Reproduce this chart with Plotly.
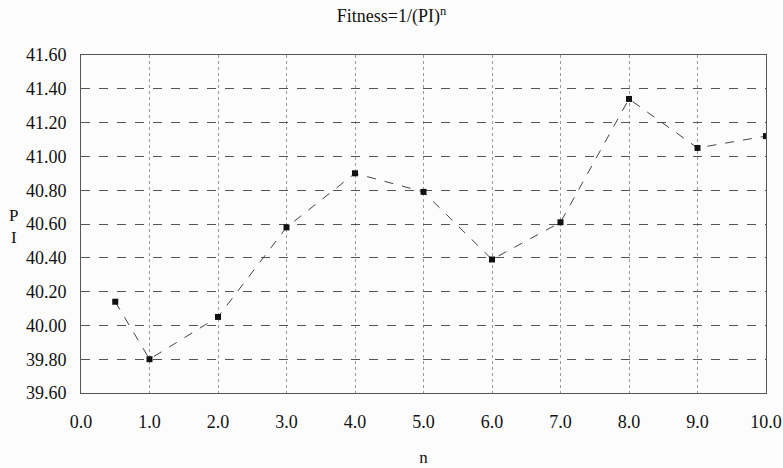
import plotly.graph_objects as go

n_values = [0.5, 1, 2, 3, 4, 5, 6, 7, 8, 9, 10]
pi_values = [40.14, 39.80, 40.05, 40.58, 40.90, 40.79, 40.39, 40.61, 41.34, 41.05, 41.12]
x_ticks = [0, 1, 2, 3, 4, 5, 6, 7, 8, 9, 10]
y_ticks = [39.6, 39.8, 40.0, 40.2, 40.4, 40.6, 40.8, 41.0, 41.2, 41.4, 41.6]

font_family = "Liberation Serif, Times New Roman, serif"

fig = go.Figure()
fig.add_trace(go.Scatter(
    x=n_values, y=pi_values, mode="lines+markers",
    line=dict(color="#444444", width=1, dash="dash"),
    marker=dict(symbol="square", size=6, color="#111111"),
    showlegend=False,
))

fig.update_layout(
    width=783, height=468,
    margin=dict(l=81, r=17, t=55, b=75, autoexpand=False),
    paper_bgcolor="#fcfcfc", plot_bgcolor="#fcfcfc",
    font=dict(family=font_family, color="#111111", size=18),
    title=dict(text="Fitness=1/(PI)<sup>n</sup>", x=0.5, xanchor="center",
               y=1 - 16 / 468, yanchor="middle", font=dict(size=18)),
    annotations=[
        dict(text="P<br>I", xref="paper", yref="paper", x=(13 - 81) / 685, y=(393 - 227) / 338,
             showarrow=False, xanchor="center", yanchor="middle", font=dict(size=17), align="center"),
    ],
)

fig.update_xaxes(
    range=[0, 10], tickvals=x_ticks, ticktext=[f"{v:.1f}" for v in x_ticks],
    showgrid=True, gridcolor="#9a9a9a", griddash="dot", gridwidth=1,
    showline=True, linecolor="#555555", linewidth=1, mirror=True,
    ticks="", ticklabelstandoff=12, zeroline=False, automargin=False,
    title=dict(text="n", font=dict(size=17), standoff=20),
)
fig.update_yaxes(
    range=[39.6, 41.6], tickvals=y_ticks, ticktext=[f"{v:.2f}" for v in y_ticks],
    showgrid=True, gridcolor="#555555", griddash="dash", gridwidth=1,
    showline=True, linecolor="#555555", linewidth=1, mirror=True,
    ticks="", ticklabelstandoff=10, zeroline=False, automargin=False,
)

fig.write_html("out.html")
